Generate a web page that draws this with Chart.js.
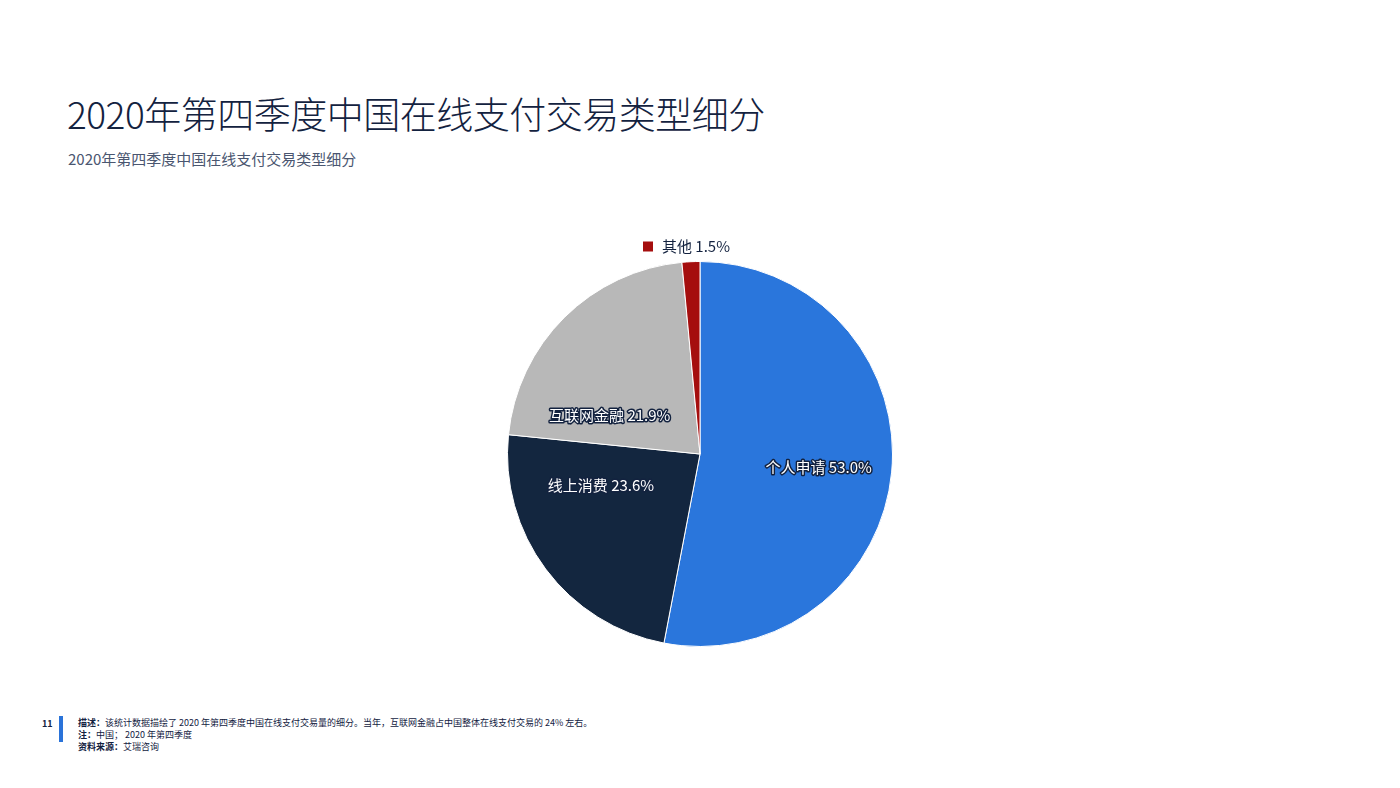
<!DOCTYPE html>
<html><head><meta charset="utf-8">
<script src="https://cdn.jsdelivr.net/npm/chart.js@4/dist/chart.umd.min.js"></script>
<style>
body{margin:0;width:1400px;height:788px;background:#fff;font-family:"Noto Sans CJK SC","Noto Sans",sans-serif;position:relative;overflow:hidden}
#t{position:absolute;left:67px;top:86px;font-size:37px;color:#13223f;font-weight:300;letter-spacing:-0.5px}
#s{position:absolute;left:68px;top:148px;font-size:15px;color:#4a5670}
#c{position:absolute;left:480px;top:230px;width:440px;height:448px}
#f{position:absolute;left:78px;top:717px;font-size:9px;line-height:12px;color:#13223f}
#n{position:absolute;left:42px;top:717px;font-size:9px;font-weight:bold;color:#13223f}
#b{position:absolute;left:59px;top:716px;width:4px;height:26px;background:#2a73d9}
</style></head><body>
<div id="t">2020年第四季度中国在线支付交易类型细分</div>
<div id="s">2020年第四季度中国在线支付交易类型细分</div>
<div id="c"><canvas id="cv"></canvas></div>
<div id="n">11</div><div id="b"></div>
<div id="f"><b>描述：</b>该统计数据描绘了 2020 年第四季度中国在线支付交易量的细分。当年，互联网金融占中国整体在线支付交易的 24% 左右。<br><b>注：</b>中国； 2020 年第四季度<br><b>资料来源：</b>艾瑞咨询</div>
<script>
const categories=["个人申请","线上消费","互联网金融","其他"];
const values=[53.0,23.6,21.9,1.5];
const colors=["#2a76dc","#13263f","#b8b8b8","#a50e0e"];
const angShift=[1,19,-22,0], radF=[0.62,0.54,0.51,0];
const labelPlugin={id:"lbl",afterDatasetsDraw(chart){
 const ctx=chart.ctx;const meta=chart.getDatasetMeta(0);
 ctx.save();ctx.textAlign="center";ctx.textBaseline="middle";
 meta.data.forEach((arc,i)=>{
  const txt=categories[i]+" "+values[i].toFixed(1)+"%";
  if(i===3){
   ctx.font='15px "Noto Sans CJK SC"';ctx.fillStyle="#13223f";
   const y=arc.y-arc.outerRadius-15;
   ctx.textAlign="left";ctx.fillText(txt,arc.x-38,y);
   ctx.fillStyle=colors[3];ctx.fillRect(arc.x-57,y-5,10,10);return;
  }
  const a=(arc.startAngle+arc.endAngle)/2+angShift[i]*Math.PI/180;const r=arc.outerRadius*radF[i];
  const x=arc.x+Math.cos(a)*r,y=arc.y+Math.sin(a)*r;
  ctx.font='15px "Noto Sans CJK SC"';ctx.lineWidth=3;ctx.strokeStyle="#13223f";ctx.lineJoin="round";
  ctx.strokeText(txt,x,y);ctx.fillStyle="#fff";ctx.fillText(txt,x,y);
 });ctx.restore();}};
new Chart(document.getElementById("cv"),{type:"pie",
 data:{labels:categories,datasets:[{data:values,backgroundColor:colors,borderWidth:1,borderColor:"#ffffff"}]},
 options:{responsive:true,maintainAspectRatio:false,animation:false,layout:{padding:27},
  plugins:{legend:{display:false},tooltip:{enabled:false}}},plugins:[labelPlugin]});
</script></body></html>
